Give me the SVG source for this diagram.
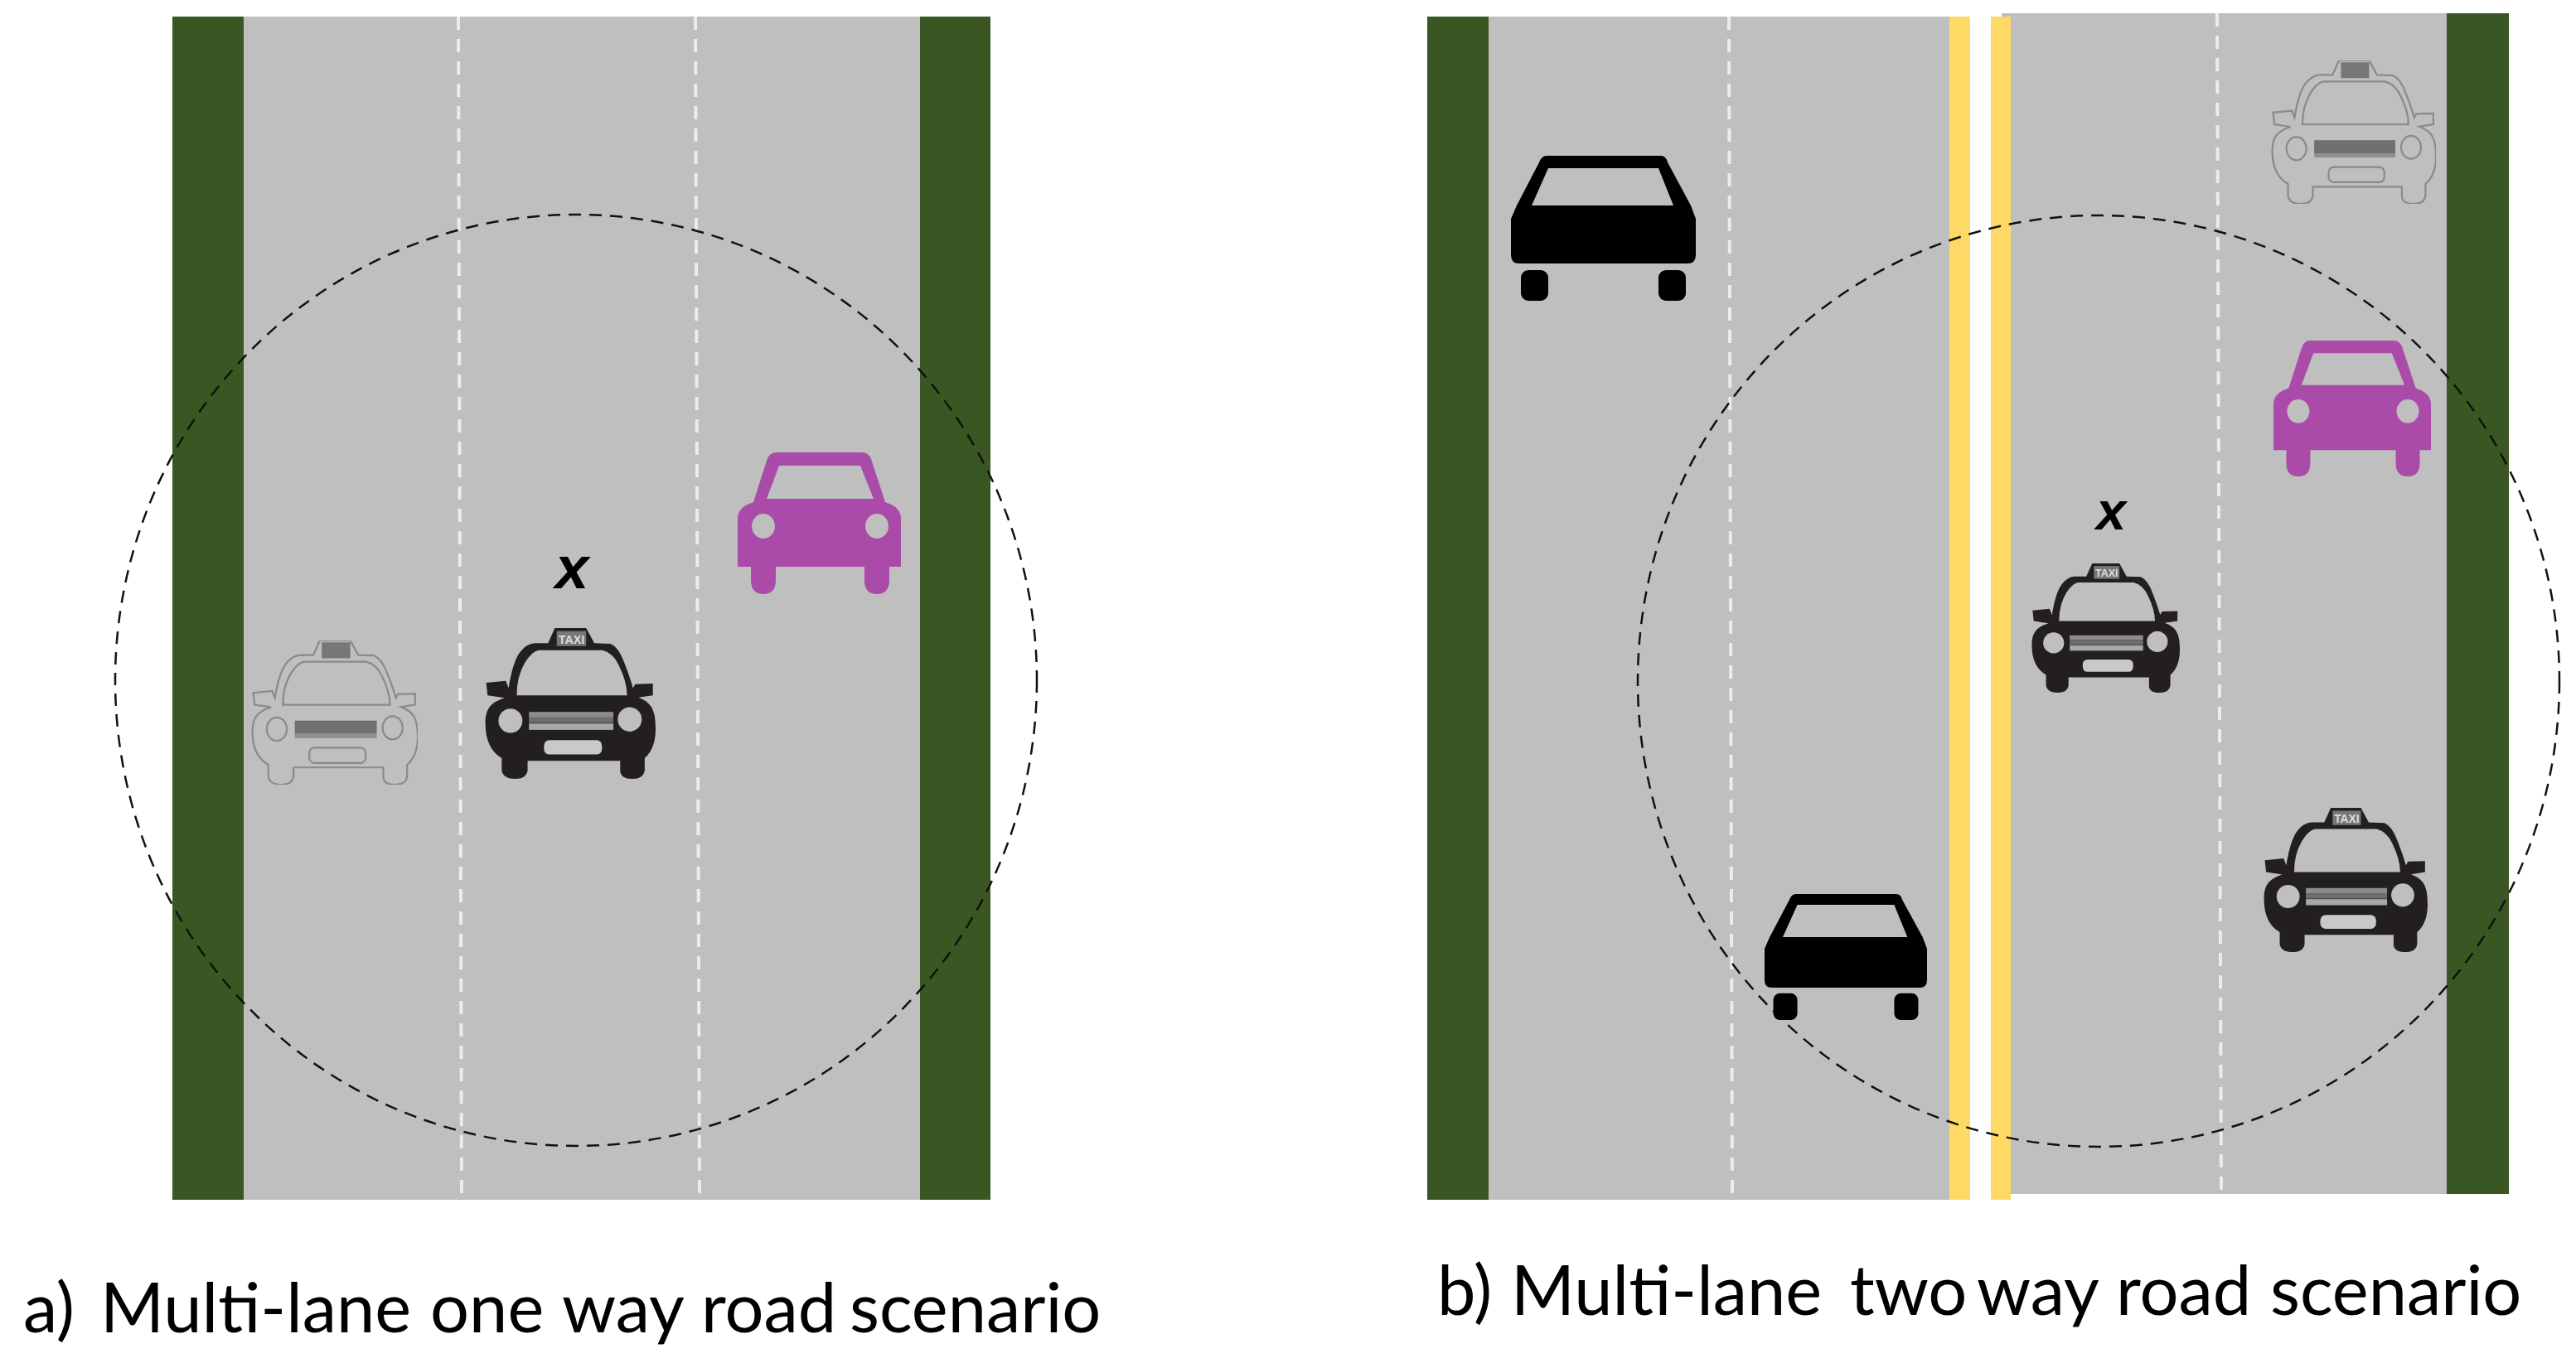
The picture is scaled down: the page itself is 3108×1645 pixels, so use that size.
<svg xmlns="http://www.w3.org/2000/svg" width="3108" height="1645" viewBox="0 0 3108 1645">
<style>
.road{fill:#bfbfbf}
.verge{fill:#3a5723}
.yellow{fill:#ffd966}
.lane{stroke:#ececec;stroke-width:4;stroke-dasharray:16 11;fill:none}
.range{fill:none;stroke:#111;stroke-width:2.5;stroke-dasharray:15 10}
.caption{font-family:Lato,"Liberation Sans",sans-serif;font-size:83px;fill:#000}
.mark{font-family:"Liberation Sans",Arial,sans-serif;font-weight:700;font-style:italic;fill:#000;text-anchor:middle}
.dark{fill:#231f20}
.out{fill:none;stroke:#8a8a8a;stroke-width:7}
.hole{fill:#bfbfbf}
</style>
<defs>
<path id="taxi-body" d="M360,410 L385,355 L500,355 L530,410 L590,412 Q620,425 640,480 Q660,530 672,572 L680,558 L745,556 L745,598 L692,606 C740,625 755,650 755,720 Q755,790 715,825 L715,870 Q710,900 670,900 Q625,900 625,870 L625,835 L285,835 L285,870 Q280,900 240,900 Q195,900 190,870 L190,825 Q130,790 130,700 C130,650 145,625 200,607 L138,598 L133,553 L205,546 L215,572 Q230,480 255,445 Q280,412 310,410 Z"/>
<path id="taxi-glass" d="M245,598 Q245,530 275,480 Q300,440 325,435 L560,435 Q600,445 620,490 Q650,550 650,598 Z"/>
<symbol id="taxi" viewBox="125 355 630 545" preserveAspectRatio="none">
<use href="#taxi-body" class="dark"/>
<use href="#taxi-glass" class="hole"/>
<circle cx="222" cy="690" r="44" class="hole"/>
<circle cx="660" cy="685" r="44" class="hole"/>
<rect x="290" y="658" width="310" height="20" fill="#8c8c8c"/>
<rect x="290" y="678" width="310" height="20" fill="#6e6e6e"/>
<rect x="290" y="700" width="310" height="23" fill="#a8a8a8"/>
<rect x="345" y="760" width="213" height="52" rx="20" fill="#c9c9c9"/>
<rect x="392" y="366" width="108" height="54" fill="#777"/>
<text x="446" y="411" font-family="'Liberation Sans',sans-serif" font-size="44" font-weight="700" fill="#ddd" text-anchor="middle" textLength="96" lengthAdjust="spacingAndGlyphs">TAXI</text>
</symbol>
<symbol id="taxi-outline" viewBox="125 355 630 545" preserveAspectRatio="none">
<use href="#taxi-body" class="out"/>
<use href="#taxi-glass" class="out" stroke-width="10"/>
<ellipse cx="222" cy="690" rx="38" ry="44" class="out"/>
<ellipse cx="660" cy="685" rx="38" ry="44" class="out"/>
<rect x="290" y="658" width="310" height="50" fill="#707070"/>
<rect x="290" y="708" width="310" height="16" fill="#8f8f8f"/>
<rect x="345" y="760" width="213" height="58" rx="20" class="out"/>
<rect x="392" y="362" width="108" height="60" fill="#777"/>
</symbol>
<symbol id="car" viewBox="0 0 197 171" preserveAspectRatio="none">
<path d="M46,0 L150,0 Q158,0 161,8 L178,60 Q197,66 197,80 L197,138 L183,138 L183,154 Q183,171 168,171 Q153,171 153,154 L153,138 L46,138 L46,154 Q46,171 31,171 Q16,171 16,154 L16,138 L0,138 L0,80 Q0,66 19,60 L35,10 Q38,0 46,0Z" fill="#aa4ba9"/>
<path d="M50,16 L148,16 L164,56 L35,56 Z" class="hole"/>
<ellipse cx="31" cy="89" rx="14" ry="15" class="hole"/>
<ellipse cx="168" cy="89" rx="14" ry="15" class="hole"/>
</symbol>
<symbol id="sedan" viewBox="0 0 223 175" preserveAspectRatio="none">
<path d="M43,0 L181,0 Q187,0 189,8 L217,60 L223,76 L223,120 Q223,130 213,130 L10,130 Q0,130 0,120 L0,76 L7,60 L34,8 Q37,0 43,0Z" fill="#000"/>
<path d="M45,15 L178,15 L196,60 L25,60 Z" class="hole"/>
<rect x="12" y="138" width="33" height="37" rx="9" fill="#000"/>
<rect x="178" y="138" width="33" height="37" rx="9" fill="#000"/>
</symbol>
</defs>
<rect width="3108" height="1645" fill="#fff"/>

<g id="road-a">
<rect class="road" x="293" y="20" width="817" height="1428"/>
<rect class="verge" x="208" y="20" width="86" height="1428"/>
<rect class="verge" x="1110" y="20" width="85" height="1428"/>
<line class="lane" x1="553" y1="20" x2="557" y2="1448"/>
<line class="lane" x1="839" y1="20" x2="844" y2="1448"/>
</g>
<g id="road-b">
<rect class="road" x="1796" y="20" width="556" height="1428"/>
<rect class="road" x="2415" y="16" width="537" height="1425"/>
<rect x="2377" y="20" width="38" height="1428" fill="#fff"/>
<rect class="verge" x="1722" y="20" width="74" height="1428"/>
<rect class="verge" x="2952" y="16" width="75" height="1425"/>
<rect class="yellow" x="2352" y="20" width="25" height="1428"/>
<rect class="yellow" x="2402" y="20" width="24" height="1428"/>
<line class="lane" x1="2086" y1="20" x2="2090" y2="1448" stroke-width="3"/>
<line class="lane" x1="2675" y1="16" x2="2680" y2="1441" stroke-width="3"/>
</g>
<g id="connectors">
<ellipse id="range-a" class="range" cx="695" cy="821" rx="556" ry="562"/>
<ellipse id="range-b" class="range" cx="2532" cy="822" rx="556" ry="562"/>
</g>
<g id="car-a-outline"><use href="#taxi-outline" x="303" y="773" width="201" height="174"/></g>
<g id="car-a-taxi"><use href="#taxi" x="584" y="758" width="207" height="182"/></g>
<g id="car-a-purple"><use href="#car" x="890" y="546" width="197" height="171"/></g>
<g id="label-x-a"><text class="mark" x="690" y="710" font-size="73">x</text></g>
<g id="car-b-sedan-top"><use href="#sedan" x="1823" y="188" width="223" height="175"/></g>
<g id="car-b-sedan-low"><use href="#sedan" x="2129" y="1079" width="196" height="152"/></g>
<g id="car-b-outline"><use href="#taxi-outline" x="2740" y="73" width="199" height="173"/></g>
<g id="car-b-purple"><use href="#car" x="2743" y="411" width="190" height="164"/></g>
<g id="car-b-taxi"><use href="#taxi" x="2450" y="680" width="180" height="156"/></g>
<g id="car-b-taxi-low"><use href="#taxi" x="2730" y="975" width="199" height="174"/></g>
<g id="label-x-b"><text class="mark" x="2547" y="639" font-size="65">x</text></g>
<g id="captions">
<text class="caption" x="28" y="1608">a) <tspan x="121">Multi-lane </tspan><tspan x="519">one </tspan><tspan x="678">way </tspan><tspan x="846">road </tspan><tspan x="1025">scenario</tspan></text>
<text class="caption" x="1734" y="1587">b) <tspan x="1823">Multi-lane </tspan><tspan x="2232">two </tspan><tspan x="2385">way </tspan><tspan x="2553">road </tspan><tspan x="2739">scenario</tspan></text>
</g>
</svg>
